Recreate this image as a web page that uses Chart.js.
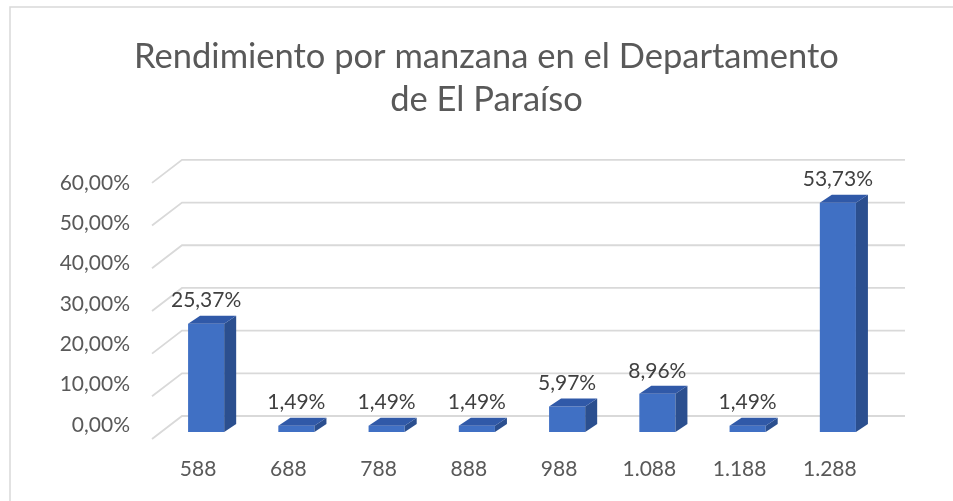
<!DOCTYPE html>
<html>
<head>
<meta charset="utf-8">
<script src="https://cdn.jsdelivr.net/npm/chart.js@4.4.1/dist/chart.umd.min.js"></script>
<style>
  html, body { margin: 0; padding: 0; background: #fff; overflow: hidden; }
  #wrap { position: relative; width: 953px; height: 501px; }
</style>
</head>
<body>
<div id="wrap"><canvas id="chart"></canvas></div>
<script>
// chart data
const titleLines = ['Rendimiento por manzana en el Departamento', 'de El Paraíso'];
const categories = ['588', '688', '788', '888', '988', '1.088', '1.188', '1.288'];
const percentValues = [25.37, 1.49, 1.49, 1.49, 5.97, 8.96, 1.49, 53.73];
const tickStep = 10;
const axisMax = 60;

const FONT = 'Lato, "Open Sans", sans-serif';
const GRID = '#d9d9d9';

function pct(v) {
    return v.toFixed(2).replace('.', ',') + '%';
}

// fake 3D: floor/back wall grid, bar side + top faces, value labels
const depthPlugin = {
    id: 'depth',
    beforeDraw(chart) {
        const ctx = chart.ctx;
        ctx.save();
        ctx.strokeStyle = GRID;
        ctx.lineWidth = 1.5;
        ctx.beginPath();
        ctx.moveTo(10, 501);
        ctx.lineTo(10, 7);
        ctx.lineTo(953, 7);
        ctx.stroke();
        ctx.restore();
    },
    beforeDatasetsDraw(chart) {
        const ctx = chart.ctx;
        const area = chart.chartArea;
        const y = chart.scales.y;
        ctx.save();
        ctx.strokeStyle = GRID;
        ctx.lineWidth = 1.8;
        for (let v = 0; v <= axisMax; v += tickStep) {
            const py = y.getPixelForValue(v);
            ctx.beginPath();
            ctx.moveTo(area.left - 9, py + 7);
            ctx.lineTo(area.left + 21, py - 16);
            ctx.lineTo(area.right + 22, py - 16);
            ctx.stroke();
        }
        ctx.restore();
    },
    afterDatasetsDraw(chart) {
        const ctx = chart.ctx;
        const meta = chart.getDatasetMeta(0);
        const dx = 12, dy = -8;
        ctx.save();
        meta.data.forEach((bar, i) => {
            const p = bar.getProps(['x', 'y', 'base', 'width'], true);
            const l = p.x - p.width / 2, r = p.x + p.width / 2;
            // side
            ctx.fillStyle = '#2b4f8f';
            ctx.beginPath();
            ctx.moveTo(r, p.y);
            ctx.lineTo(r + dx, p.y + dy);
            ctx.lineTo(r + dx, p.base + dy);
            ctx.lineTo(r, p.base);
            ctx.closePath();
            ctx.fill();
            // top
            ctx.fillStyle = '#3059a8';
            ctx.beginPath();
            ctx.moveTo(l, p.y);
            ctx.lineTo(l + dx, p.y + dy);
            ctx.lineTo(r + dx, p.y + dy);
            ctx.lineTo(r, p.y);
            ctx.closePath();
            ctx.fill();
            // value label
            ctx.fillStyle = '#404040';
            ctx.font = '21px ' + FONT;
            ctx.textAlign = 'center';
            ctx.textBaseline = 'middle';
            ctx.fillText(pct(percentValues[i]), p.x, p.y - 23);
        });
        ctx.restore();
    }
};

const ctx = document.getElementById('chart').getContext('2d');
const chart = new Chart(ctx, {
    type: 'bar',
    data: {
        labels: categories,
        datasets: [{
            data: percentValues,
            backgroundColor: '#4070c4',
            borderWidth: 0,
            barPercentage: 0.4,
            categoryPercentage: 1
        }]
    },
    options: {
        responsive: true,
        maintainAspectRatio: false,
        animation: false,
        layout: { padding: { left: 20, right: 0, top: 0, bottom: 0 } },
        plugins: {
            legend: { display: false },
            tooltip: { enabled: false },
            title: {
                display: true,
                text: titleLines,
                color: '#595959',
                font: { family: FONT, size: 34.5, weight: 'normal', lineHeight: 1.23 },
                padding: { top: 36, bottom: 55 }
            }
        },
        scales: {
            x: {
                grid: { display: false },
                border: { display: false },
                ticks: {
                    color: '#595959',
                    font: { family: FONT, size: 21 },
                    labelOffset: -8,
                    padding: 17,
                    maxRotation: 0,
                    autoSkip: false
                },
                afterFit(scale) { scale.height = 69; }
            },
            y: {
                display: false,
                min: 0,
                max: axisMax
            },
            y2: {
                position: 'left',
                min: -1.728,
                max: 61.728,
                grid: { display: false, drawTicks: false },
                border: { display: false },
                ticks: {
                    stepSize: tickStep,
                    includeBounds: false,
                    padding: 31,
                    color: '#595959',
                    font: { family: FONT, size: 21 },
                    callback: v => pct(v)
                },
                afterFit(scale) { scale.width = 141; }
            },
            // empty right-hand spacer so the title centres on the whole canvas
            yRight: {
                position: 'right',
                min: 0,
                max: axisMax,
                grid: { display: false, drawTicks: false },
                border: { display: false },
                ticks: { display: false },
                afterFit(scale) { scale.width = 70; }
            }
        }
    },
    plugins: [depthPlugin]
});
</script>
</body>
</html>
